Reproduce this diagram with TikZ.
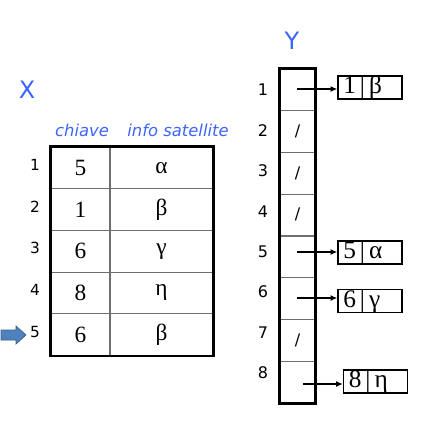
\documentclass[tikz,border=0pt]{standalone}
\usepackage{fontspec}
\setmainfont{Liberation Serif}
\newfontfamily\lblfont{DejaVu Sans}
\usetikzlibrary{arrows.meta}
\definecolor{hblue}{RGB}{60,100,255}
\definecolor{arrowblue}{RGB}{79,129,189}
\definecolor{arrowedge}{RGB}{56,93,138}
\definecolor{gridgray}{RGB}{110,110,110}
\tikzset{
  kcell/.style={draw=gridgray, line width=0.8pt, minimum width=44.25pt, minimum height=31.2pt, inner sep=0pt, font=\fontsize{17.5}{17.5}\selectfont},
  icell/.style={kcell, minimum width=77.25pt},
  ycell/.style={draw=gridgray, line width=0.8pt, minimum width=26.25pt, minimum height=31.3pt, inner sep=0pt, font=\lblfont\fontsize{12}{12}\selectfont},
  rowlbl/.style={font=\lblfont\fontsize{11.5}{11.5}\selectfont, inner sep=0pt},
  hdr/.style={font=\lblfont\itshape\fontsize{12.3}{12.3}\selectfont, text=hblue, inner sep=0pt},
  big/.style={font=\lblfont\fontsize{18}{18}\selectfont, text=hblue, inner sep=0pt},
  rec/.style={draw=black, line width=1.1pt, minimum width=48pt, minimum height=17.25pt, inner sep=0pt, text width=44pt, align=left, font=\fontsize{19}{19}\selectfont},
  ptr/.style={line width=0.9pt, -{Latex[length=5pt,width=4.5pt]}},
}
\begin{document}
\begin{tikzpicture}[x=0.75pt,y=-0.75pt]
\useasboundingbox (0,0) rectangle (432,426);
% X table
\node[big] (X) at (27,90) {X};
\node[hdr] (hk) at (82,130) {chiave};
\node[hdr] (hi) at (178,130) {info satellite};
\foreach \r/\k/\v [count=\i] in {1/5/α,2/1/β,3/6/γ,4/8/η,5/6/β}{
  \pgfmathsetmacro{\cy}{147+41.7*(\i-0.5)}
  \pgfmathsetmacro{\ly}{\cy-3}
  \node[kcell] (k\i) at (80.5,\cy) {\k};
  \node[icell] (v\i) at (161.5,\cy) {\v};
  \node[rowlbl] (r\i) at (35,\ly) {\r};
}
\draw[line width=1.6pt] (k1.north west) rectangle (v5.south east);
% blue arrow
\fill[arrowblue, draw=arrowedge, line width=0.5pt] (1,330) -- (16,330) -- (16,326) -- (26,335) -- (16,344) -- (16,340) -- (1,340) -- cycle;
% Y array
\node[big] (Y) at (292,41) {Y};
\foreach \c [count=\i] in {{},/,/,/,{},{},/,{}}{
  \pgfmathsetmacro{\cy}{69+41.75*(\i-0.5)}
  \pgfmathsetmacro{\ly}{90+40.4*(\i-1)}
  \node[ycell] (y\i) at (297.5,\cy) {\raisebox{1.5pt}{\c}};
  \node[rowlbl, font=\lblfont\fontsize{12}{12}\selectfont] (l\i) at (263,\ly) {\i};
}
\draw[line width=1.6pt] (y1.north west) rectangle (y8.south east);
% records
\node[rec] (b1) at (370,87.5) {\hspace*{2pt}1\hspace{3pt}|\hspace{3pt}β};
\node[rec] (b5) at (370,252.5) {\hspace*{2pt}5\hspace{3pt}|\hspace{3pt}α};
\node[rec] (b6) at (370,301) {\hspace*{2pt}6\hspace{3pt}|\hspace{3pt}γ};
\node[rec] (b8) at (375.5,381.5) {\hspace*{2pt}8\hspace{3pt}|\hspace{3pt}η};
\coordinate (s1) at (297,89);
\coordinate (s5) at (297,252);
\coordinate (s6) at (297,298);
\coordinate (s8) at (303,384);
\draw[ptr] (s1) -- (s1 -| b1.west);
\draw[ptr] (s5) -- (s5 -| b5.west);
\draw[ptr] (s6) -- (s6 -| b6.west);
\draw[ptr] (s8) -- (s8 -| b8.west);
\end{tikzpicture}
\end{document}
